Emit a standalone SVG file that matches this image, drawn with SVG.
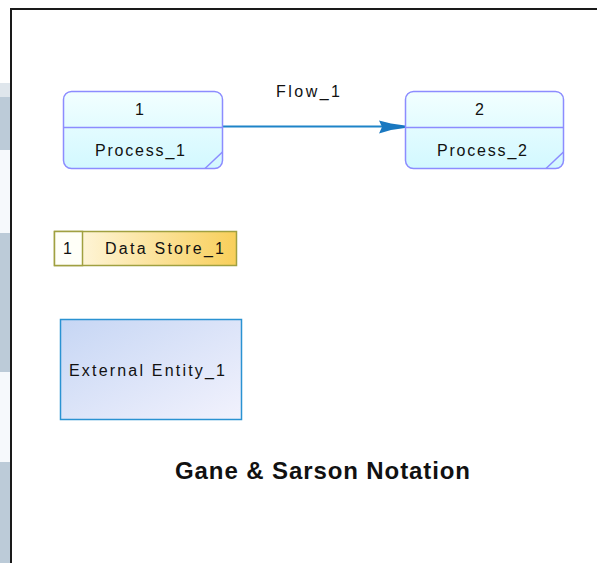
<svg xmlns="http://www.w3.org/2000/svg" width="597" height="563" viewBox="0 0 597 563">
<defs>
<linearGradient id="procFill" x1="0" y1="0" x2="0" y2="1">
<stop offset="0" stop-color="#f2ffff"/>
<stop offset="1" stop-color="#d2f8ff"/>
</linearGradient>
<linearGradient id="storeFill" x1="0" y1="0" x2="1" y2="0">
<stop offset="0" stop-color="#fffbec"/>
<stop offset="1" stop-color="#f8cf5a"/>
</linearGradient>
<linearGradient id="entFill" x1="0" y1="0" x2="1" y2="1">
<stop offset="0" stop-color="#c6d6f4"/>
<stop offset="1" stop-color="#f2f2fd"/>
</linearGradient>
<style>
.lbl{font-family:"Liberation Sans",Arial,sans-serif;font-size:16px;fill:#111;text-anchor:middle}
.proc{fill:url(#procFill);stroke:#8c8cff;stroke-width:1.5}
.pline{stroke:#8c8cff;stroke-width:1.5;fill:none}
</style>
</defs>
<rect x="0" y="0" width="597" height="563" fill="#ffffff"/>
<g id="sidebar">
<rect x="0" y="83" width="10" height="14" fill="#dfe6ec"/>
<rect x="0" y="97" width="10" height="53" fill="#bccbd8"/>
<rect x="0" y="150" width="10" height="83" fill="#f6f9fc"/>
<rect x="0" y="233" width="10" height="139" fill="#bccbd8"/>
<rect x="0" y="372" width="10" height="90" fill="#f6f9fc"/>
<rect x="0" y="462" width="10" height="101" fill="#bccbd8"/>
</g>
<path d="M11 563 V9 H597" fill="none" stroke="#1a1a1a" stroke-width="2"/>
<g id="connectors">
<line x1="223" y1="126.5" x2="398" y2="126.5" stroke="#1e84c8" stroke-width="2"/>
<polygon points="379,120.5 391,123.5 405,125.5 405,128 391,130 379,133.5 382,127" fill="#1a78c0"/>
<text class="lbl" x="308" y="97" textLength="64" lengthAdjust="spacing">Flow_1</text>
</g>
<g id="process1">
<rect class="proc" x="63.5" y="91.5" width="159" height="77" rx="8"/>
<line class="pline" x1="63.5" y1="127.5" x2="222.5" y2="127.5"/>
<line class="pline" x1="222.5" y1="152" x2="205" y2="168.5"/>
<text class="lbl" x="139.5" y="115">1</text>
<text class="lbl" x="140" y="156" textLength="90" lengthAdjust="spacing">Process_1</text>
</g>
<g id="process2">
<rect class="proc" x="405.5" y="91.5" width="158" height="77" rx="8"/>
<line class="pline" x1="405.5" y1="127.5" x2="563.5" y2="127.5"/>
<line class="pline" x1="563.5" y1="152" x2="546" y2="168.5"/>
<text class="lbl" x="479.5" y="115">2</text>
<text class="lbl" x="482" y="156" textLength="90" lengthAdjust="spacing">Process_2</text>
</g>
<g id="datastore1">
<rect x="54.5" y="231.5" width="182" height="34" fill="url(#storeFill)" stroke="#a0a040" stroke-width="1.5"/>
<rect x="54.5" y="231.5" width="28" height="34" fill="#fffff8" stroke="#a0a040" stroke-width="1.5"/>
<text class="lbl" x="67.5" y="254">1</text>
<text class="lbl" x="164.5" y="254" textLength="119" lengthAdjust="spacing">Data Store_1</text>
</g>
<g id="entity1">
<rect x="60.5" y="319.5" width="181" height="100" fill="url(#entFill)" stroke="#2a92d2" stroke-width="1.5"/>
<text class="lbl" x="147" y="376" textLength="156" lengthAdjust="spacing">External Entity_1</text>
</g>
<text x="322.5" y="479" font-family="'Liberation Sans',Arial,sans-serif" font-size="24" font-weight="bold" fill="#111" text-anchor="middle" textLength="295" lengthAdjust="spacing">Gane &amp; Sarson Notation</text>
</svg>
